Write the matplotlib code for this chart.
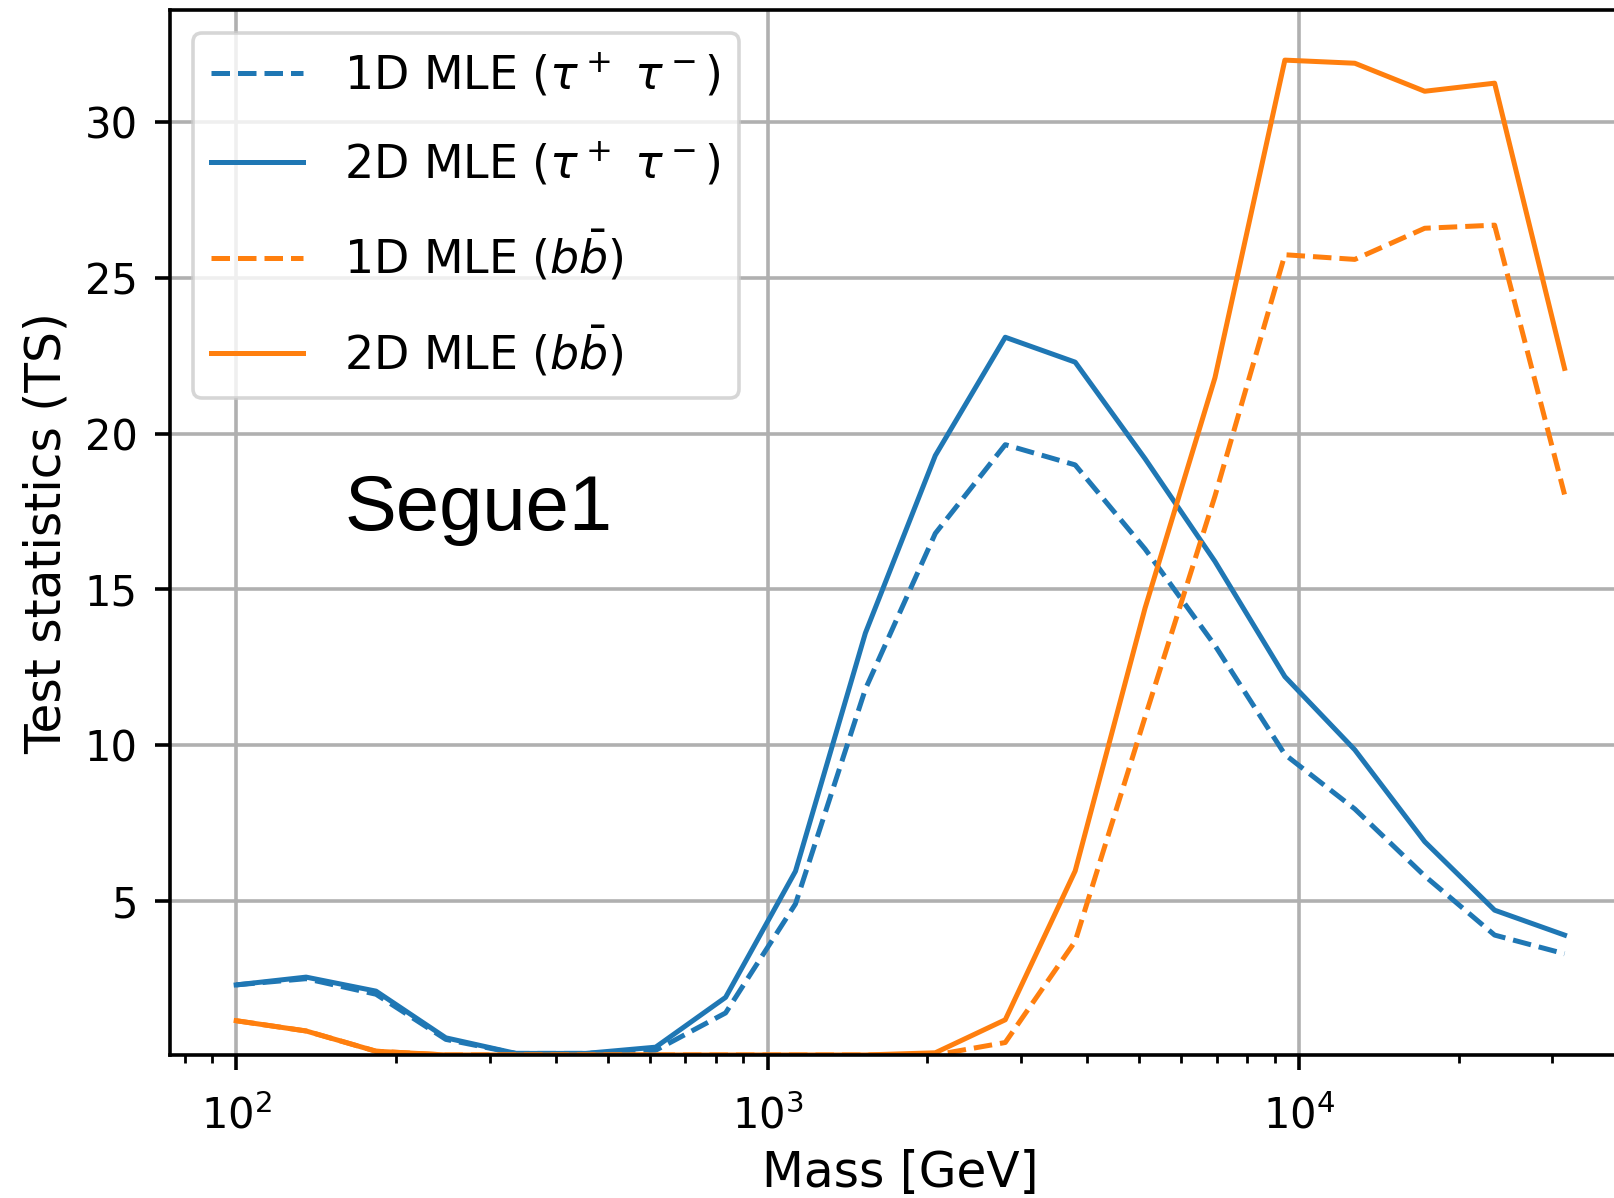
import matplotlib
matplotlib.use("Agg")
import matplotlib.pyplot as plt

# dark matter mass grid [GeV]
mass = [100, 135.4, 183.3, 248.1, 336.0, 454.9, 615.8, 833.9, 1128.8, 1528.3,
        2069.1, 2801.8, 3793.3, 5134.8, 6952.0, 9412.0, 12743, 17252, 23357, 31623]

# test statistics
ts_1d_tau = [2.3, 2.5, 2.0, 0.55, 0.1, 0.1, 0.2, 1.4, 4.9, 11.8,
             16.8, 19.65, 19.0, 16.3, 13.2, 9.7, 7.95, 5.8, 3.9, 3.3]
ts_2d_tau = [2.3, 2.55, 2.1, 0.6, 0.1, 0.1, 0.3, 1.9, 5.95, 13.6,
             19.3, 23.1, 22.3, 19.2, 15.9, 12.2, 9.85, 6.9, 4.7, 3.9]
ts_1d_bb = [1.15, 0.82, 0.17, 0.05, 0.05, 0.05, 0.05, 0.05, 0.05, 0.05,
            0.05, 0.45, 3.7, 10.9, 18.0, 25.75, 25.6, 26.6, 26.7, 18.05]
ts_2d_bb = [1.15, 0.82, 0.17, 0.05, 0.05, 0.05, 0.05, 0.05, 0.05, 0.05,
            0.12, 1.18, 5.96, 14.4, 21.8, 32.0, 31.9, 31.0, 31.26, 22.1]

labels = [r'1D MLE ($\tau^+$ $\tau^-$)', r'2D MLE ($\tau^+$ $\tau^-$)',
          r'1D MLE ($b\bar{b}$)', r'2D MLE ($b\bar{b}$)']

lw = 3.6
plt.rcParams['font.size'] = 30

fig = plt.figure(figsize=(16.14, 11.98), dpi=100)
# axes run past the right edge, like the cropped reference
ax = fig.add_axes([0.1052, 0.1194, 0.9053, 0.872])

ax.plot(mass, ts_1d_tau, '--', color='#1f77b4', lw=lw, label=labels[0])
ax.plot(mass, ts_2d_tau, '-', color='#1f77b4', lw=lw, label=labels[1])
ax.plot(mass, ts_1d_bb, '--', color='#ff7f0e', lw=lw, label=labels[2])
ax.plot(mass, ts_2d_bb, '-', color='#ff7f0e', lw=lw, label=labels[3])

ax.set_xscale('log')
ax.set_xlim(75, 42170)
ax.set_ylim(0.05, 33.6)
ax.set_yticks([5, 10, 15, 20, 25, 30])
ax.grid(True, which='major', color='#b0b0b0', lw=2.6)

for s in ax.spines.values():
    s.set_linewidth(2.6)
ax.tick_params(which='major', length=11, width=2.6, labelsize=30, pad=12)
ax.tick_params(which='minor', length=6, width=2.0)
ax.tick_params(axis='x', which='major', pad=18)

ax.set_xlabel('Mass [GeV]', fontsize=35, labelpad=8)
ax.set_ylabel('Test statistics (TS)', fontsize=35, labelpad=10)

leg = ax.legend(loc='upper left', fontsize=33, handlelength=2.0,
                handletextpad=0.9, borderaxespad=0.5, labelspacing=0.9,
                framealpha=0.8)
leg.get_frame().set_linewidth(2.6)

fig.text(0.2136, 0.5576, 'Segue1', fontsize=56, family='Liberation Sans',
         color='black', va='baseline')

fig.savefig('out.png', dpi=100)
